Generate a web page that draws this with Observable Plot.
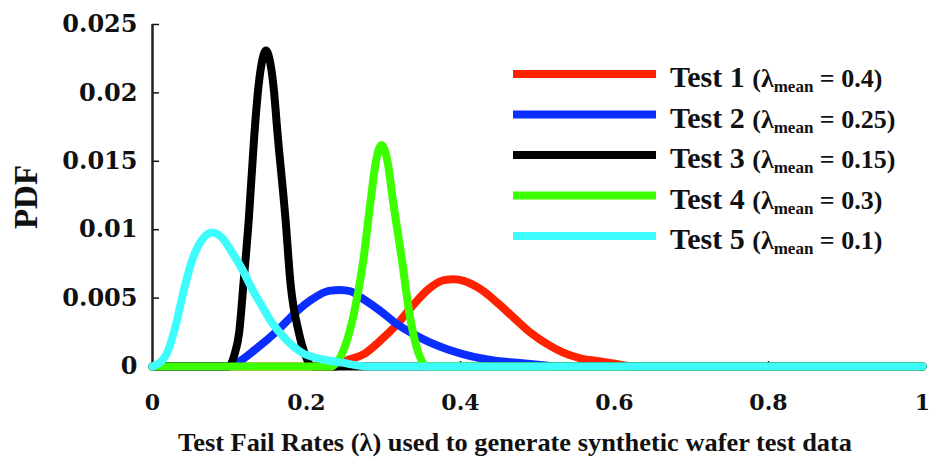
<!DOCTYPE html>
<html><head><meta charset="utf-8">
<script src="https://cdn.jsdelivr.net/npm/d3@7"></script>
<script src="https://cdn.jsdelivr.net/npm/@observablehq/plot@0.6"></script>
<style>
html,body{margin:0;padding:0;background:#fff;}
#chart{position:relative;width:932px;height:461px;}
</style></head><body><div id="chart"></div>
<script>
const testNames = ["Test 1","Test 2","Test 3","Test 4","Test 5"];
const lambdaMeans = ["0.4","0.25","0.15","0.3","0.1"];
const xTicks = [0,0.2,0.4,0.6,0.8,1];
const xTickLabels = ["0","0.2","0.4","0.6","0.8","1"];
const yTicks = [0,0.005,0.01,0.015,0.02,0.025];
const yTickLabels = ["0","0.005","0.01","0.015","0.02","0.025"];
const xTitle = "Test Fail Rates (\u03bb) used to generate synthetic wafer test data";
const yTitle = "PDF";

// Test 1 (red)
const test1Rate = [0,0.238,0.2506,0.2744,0.296,0.3178,0.3394,0.361,0.3783,0.3913,0.4043,0.426,0.4477,0.4692,0.4909,0.5126,0.5334,0.5558,0.5775,0.5987,0.625,1];
const test1Pdf  = [0,0,0.0004,0.0009,0.0019,0.0031,0.00455,0.00577,0.00631,0.00638,0.00626,0.00565,0.00467,0.00357,0.00247,0.00163,0.00101,0.0006,0.0004,0.00022,0,0];
// Test 2 (blue)
const test2Rate = [0,0.10,0.1078,0.1338,0.164,0.1857,0.2074,0.229,0.244,0.257,0.2744,0.296,0.3178,0.3394,0.361,0.3827,0.4043,0.426,0.4477,0.4736,0.504,0.525,1];
const test2Pdf  = [0,0,0.0002,0.00126,0.00272,0.00394,0.00492,0.00553,0.0056,0.0055,0.0049,0.00406,0.00309,0.00236,0.00174,0.00126,0.00089,0.0006,0.0004,0.00028,0.00012,0,0];
// Test 3 (black)
const test3Rate = [0,0.0987,0.1061,0.1126,0.1182,0.1251,0.1322,0.1377,0.1430,0.1474,0.1518,0.1571,0.1626,0.1727,0.1792,0.19,0.1987,0.2074,1];
const test3Pdf  = [0,0,0.0008,0.0025,0.0061,0.0108,0.0169,0.0205,0.0225,0.0231,0.0225,0.0205,0.0169,0.0108,0.0061,0.0025,0.0008,0,0];
// Test 4 (green)
const test4Rate = [0,0.231,0.2494,0.2614,0.2731,0.2838,0.2896,0.2974,0.3058,0.3117,0.3247,0.3338,0.3432,0.3568,1];
const test4Pdf  = [0,0,0.00138,0.00382,0.00748,0.01236,0.0148,0.0162,0.0148,0.01236,0.00748,0.00382,0.00138,0,0];
// Test 5 (cyan)
const test5Rate = [0,0.017,0.030,0.041,0.052,0.065,0.0775,0.090,0.1035,0.1165,0.1295,0.142,0.155,0.173,0.194,0.220,0.246,0.28,1];
const test5Pdf  = [0,0.00077,0.00296,0.00565,0.00785,0.00931,0.0098,0.00943,0.00833,0.00711,0.00565,0.00443,0.00321,0.00199,0.00101,0.00053,0.00028,0,0];

const rates = [test1Rate,test2Rate,test3Rate,test4Rate,test5Rate];
const pdfs  = [test1Pdf,test2Pdf,test3Pdf,test4Pdf,test5Pdf];
const points = testNames.flatMap((name,i) => rates[i].map((r,j) => ({test:name, rate:r, pdf:pdfs[i][j]})));

const plot = Plot.plot({
  width: 932, height: 461,
  marginLeft: 152, marginRight: 10, marginTop: 24, marginBottom: 95,
  x: {domain: [0,1]},
  y: {domain: [0,0.025]},
  color: {domain: testNames, range: ["#ff2200","#0a2eff","#000000","#3cff00","#3ffcfc"]},
  style: {fontFamily: "'DejaVu Serif', serif", fontWeight: "bold", color: "#111", background: "#fff", overflow: "visible"},
  marks: [
    Plot.axisY({ticks: yTicks, tickSize: 7, dx: 7, tickFormat: () => "", label: null, strokeWidth: 1.5}),
    Plot.axisY({ticks: yTicks, tickSize: 0, tickPadding: 15, tickFormat: d => yTickLabels[yTicks.indexOf(d)], fontSize: 24, fontWeight: "bold", label: null}),
    Plot.axisX({ticks: xTicks.slice(1,-1), tickSize: 5, dy: -5, tickFormat: () => "", label: null, strokeWidth: 1.5}),
    Plot.axisX({ticks: xTicks, tickSize: 0, tickPadding: 28, tickFormat: d => xTickLabels[xTicks.indexOf(d)], fontSize: 22, fontWeight: "bold", label: null}),
    Plot.ruleX([0], {stroke: "#222", strokeWidth: 2.5}),
    Plot.line(points, {x: "rate", y: "pdf", z: "test", stroke: "test", strokeWidth: 8, curve: "monotone-x", strokeLinejoin: "round"})
  ]
});
document.getElementById("chart").appendChild(plot);

const color = plot.scale("color");
const svg = d3.select(plot);
const serif = "'Liberation Serif', serif";

// x-axis title
svg.append("text")
  .attr("x", 515).attr("y", 451)
  .attr("text-anchor", "middle")
  .attr("font-family", serif).attr("font-weight", "bold").attr("font-size", 26)
  .attr("fill", "#111")
  .attr("textLength", 674).attr("lengthAdjust", "spacingAndGlyphs")
  .text(xTitle);

// y-axis title
svg.append("text")
  .attr("transform", "translate(37,197) rotate(-90)")
  .attr("text-anchor", "middle")
  .attr("font-family", serif).attr("font-weight", "bold").attr("font-size", 33)
  .attr("fill", "#111")
  .text(yTitle);

// legend
const lg = svg.append("g").attr("text-anchor", "start");
testNames.forEach((name, i) => {
  const y = 74 + 40.5 * i;
  lg.append("line").attr("x1", 513).attr("x2", 656).attr("y1", y).attr("y2", y)
    .attr("stroke", color.apply(name)).attr("stroke-width", 8);
  const t = lg.append("text").attr("x", 670).attr("y", y + 13)
    .attr("text-anchor", "start")
    .attr("font-family", serif).attr("font-weight", "bold").attr("fill", "#111");
  t.append("tspan").attr("font-size", 30).text(name + " ");
  t.append("tspan").attr("font-size", 26).text("(\u03bb");
  t.append("tspan").attr("font-size", 17).attr("dy", 5).text("mean");
  t.append("tspan").attr("font-size", 26).attr("dy", -5).text(" = " + lambdaMeans[i] + ")");
});
</script>
</body></html>
